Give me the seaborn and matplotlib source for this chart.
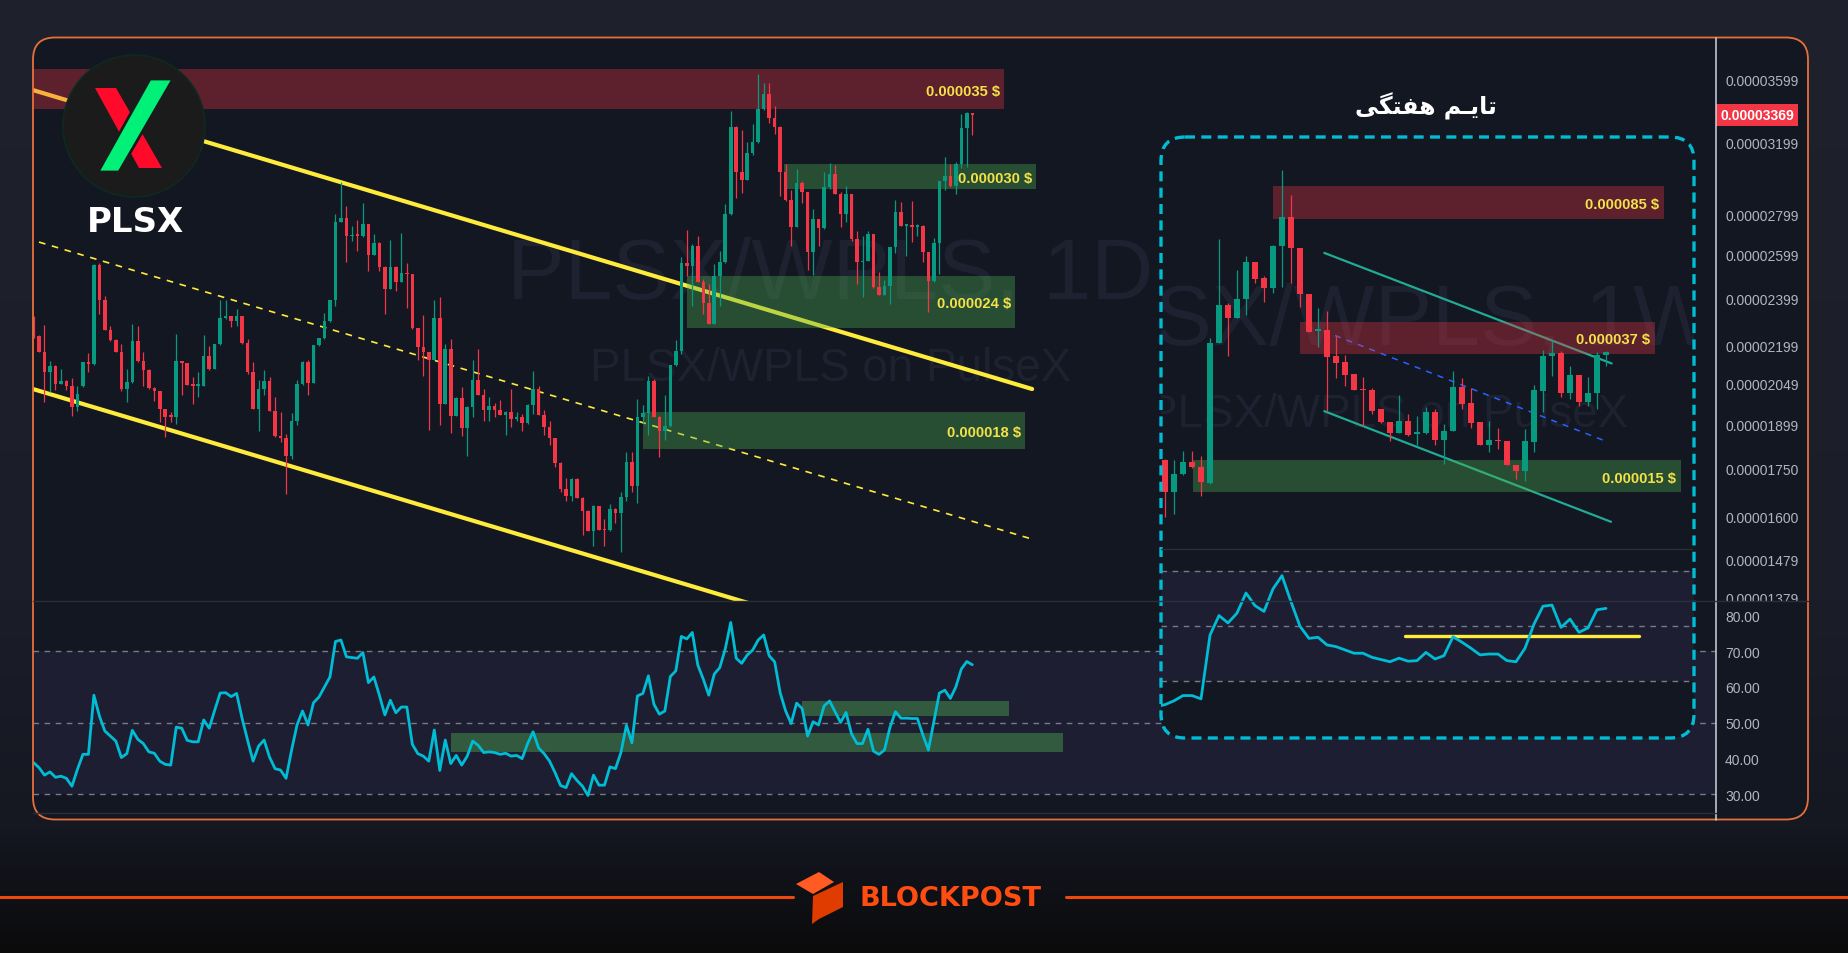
import numpy as np
import pandas as pd
import matplotlib
matplotlib.use("Agg")
import matplotlib.pyplot as plt
import seaborn as sns
from matplotlib import font_manager
from matplotlib.patches import FancyBboxPatch, Polygon, Circle
from matplotlib.transforms import blended_transform_factory, Bbox, TransformedBbox
from matplotlib.ticker import NullLocator

# ======================= DATA =======================
# Daily PLSX/WPLS candles, prices in units of 1e-8 (2199 -> 0.00002199)
d_open = [2311, 2235, 2170, 2091, 2114, 2047, 2059, 2040, 1959, 2040,
          2130, 2125, 2551, 2392, 2263, 2220, 2172, 2027, 2054, 2214,
          2136, 2101, 2031, 2021, 1955, 1928, 1926, 2135, 2126, 2043,
          2040, 2040, 2153, 2104, 2203, 2311, 2320, 2301, 2320, 2207,
          2093, 1954, 2027, 2058, 1947, 1857, 1851, 1791, 1909, 2046,
          2132, 2050, 2199, 2227, 2300, 2389, 2762, 2782, 2691, 2697,
          2690, 2752, 2598, 2657, 2543, 2440, 2543, 2473, 2511, 2508,
          2268, 2191, 2170, 2140, 2311, 1972, 2183, 1929, 1994, 1887,
          1961, 2061, 2005, 1951, 1965, 1948, 1933, 1943, 1919, 1926,
          1903, 1969, 2027, 1933, 1888, 1850, 1769, 1683, 1664, 1716,
          1658, 1618, 1559, 1631, 1563, 1562, 1623, 1610, 1659, 1771,
          1693, 1925, 1938, 2058, 1926, 1874, 1893, 2119, 2174, 2560,
          2544, 2640, 2473, 2377, 2287, 2497, 2563, 2803, 3291, 3032,
          2986, 3136, 3201, 3405, 3500, 3347, 3291, 3032, 2875, 2738,
          2969, 2918, 2614, 2777, 2729, 2946, 3018, 2909, 2803, 2909,
          2676, 2563, 2570, 2701, 2447, 2414, 2455, 2635, 2811, 2743,
          2746, 2737, 2742, 2611, 2475, 2657, 2980, 3006, 2950, 3075,
          3287, 3379]
d_high = [2320, 2240, 2284, 2136, 2121, 2104, 2062, 2069, 2040, 2133,
          2168, 2555, 2560, 2407, 2280, 2222, 2203, 2104, 2287, 2278,
          2170, 2104, 2035, 2021, 1955, 1942, 2245, 2135, 2126, 2071,
          2091, 2241, 2196, 2205, 2389, 2390, 2322, 2351, 2322, 2224,
          2132, 2061, 2099, 2073, 1998, 1942, 1865, 1940, 2061, 2135,
          2140, 2199, 2229, 2332, 2390, 2805, 2976, 2846, 2743, 2772,
          2860, 2754, 2701, 2659, 2545, 2671, 2545, 2706, 2560, 2510,
          2270, 2325, 2172, 2392, 2404, 2204, 2224, 1996, 2035, 1963,
          2139, 2183, 2027, 1998, 1975, 1987, 1945, 2027, 1944, 1935,
          1971, 2096, 2040, 1951, 1911, 1852, 1771, 1718, 1718, 1718,
          1660, 1620, 1635, 1633, 1592, 1638, 1626, 1675, 1803, 1803,
          1990, 1969, 2077, 2065, 1928, 2005, 2121, 2218, 2587, 2721,
          2652, 2689, 2486, 2462, 2555, 2619, 2853, 3390, 3302, 3277,
          3201, 3311, 3632, 3572, 3572, 3422, 3300, 3075, 2929, 3047,
          2982, 2922, 2831, 2779, 3029, 3080, 3068, 2918, 2951, 2911,
          2718, 2692, 2718, 2703, 2516, 2482, 2637, 2875, 2864, 2748,
          2870, 2750, 2744, 2613, 2680, 2982, 3117, 3075, 3088, 3373,
          3387, 3381]
d_low = [2228, 2170, 1978, 2015, 2023, 2045, 2023, 1930, 1945, 2036,
         2093, 2120, 2329, 2263, 2214, 2170, 2020, 1978, 2050, 2130,
         2040, 2027, 1984, 1908, 1856, 1906, 1900, 2003, 2043, 1972,
         1997, 2038, 2100, 2102, 2200, 2309, 2273, 2280, 2205, 2084,
         1952, 1877, 2003, 1945, 1853, 1837, 1669, 1781, 1895, 2044,
         2003, 2050, 2197, 2225, 2293, 2362, 2760, 2566, 2668, 2619,
         2688, 2524, 2596, 2524, 2329, 2438, 2432, 2471, 2355, 2266,
         2140, 2077, 1880, 2138, 1898, 1970, 1869, 1927, 1857, 1790,
         1923, 2003, 1909, 1909, 1923, 1931, 1860, 1890, 1910, 1877,
         1901, 1935, 1931, 1860, 1827, 1756, 1675, 1647, 1648, 1656,
         1548, 1557, 1517, 1560, 1517, 1559, 1582, 1499, 1646, 1675,
         1641, 1903, 1863, 1924, 1788, 1845, 1891, 2117, 2163, 2500,
         2366, 2471, 2329, 2285, 2285, 2366, 2560, 2800, 2886, 2913,
         2984, 3125, 3199, 3398, 3316, 3251, 2900, 2873, 2643, 2736,
         2862, 2528, 2503, 2643, 2727, 2937, 2907, 2735, 2760, 2668,
         2462, 2402, 2568, 2445, 2412, 2412, 2373, 2608, 2741, 2595,
         2660, 2689, 2563, 2336, 2473, 2508, 2929, 2946, 2909, 3055,
         3056, 3245]
d_close = [2235, 2170, 2091, 2114, 2047, 2059, 2040, 1959, 2008, 2130,
           2125, 2551, 2392, 2263, 2220, 2172, 2027, 2054, 2214, 2136,
           2101, 2031, 2021, 1955, 1926, 1925, 2135, 2126, 2043, 2040,
           2043, 2153, 2104, 2203, 2311, 2320, 2301, 2320, 2207, 2093,
           1954, 2027, 2058, 1947, 1857, 1851, 1791, 1909, 2046, 2132,
           2050, 2199, 2227, 2300, 2389, 2762, 2782, 2691, 2697, 2693,
           2752, 2598, 2657, 2543, 2440, 2543, 2473, 2511, 2508, 2268,
           2191, 2170, 2140, 2311, 1972, 2183, 1929, 1994, 1887, 1961,
           2061, 2005, 1951, 1965, 1948, 1933, 1943, 1919, 1926, 1903,
           1969, 2027, 1933, 1888, 1850, 1769, 1683, 1664, 1716, 1658,
           1618, 1559, 1631, 1562, 1561, 1623, 1610, 1659, 1771, 1693,
           1925, 1938, 2058, 1926, 1874, 1893, 2119, 2174, 2560, 2544,
           2640, 2473, 2377, 2287, 2497, 2563, 2803, 3291, 3032, 2986,
           3136, 3201, 3405, 3500, 3347, 3291, 3032, 2875, 2738, 2969,
           2918, 2614, 2777, 2729, 2946, 3018, 2909, 2803, 2909, 2676,
           2563, 2570, 2701, 2447, 2414, 2455, 2635, 2811, 2743, 2746,
           2737, 2742, 2611, 2475, 2657, 2980, 3006, 2950, 3075, 3287,
           3379, 3369]
d_rsi = [38.9, 37.5, 35.4, 36.3, 34.8, 35.1, 34.5, 32.3, 37.0, 41.2,
         41.2, 57.7, 51.9, 47.7, 46.3, 44.9, 40.3, 41.4, 47.9, 45.4,
         44.2, 41.9, 41.5, 39.3, 38.4, 38.2, 48.8, 48.5, 45.1, 44.7,
         44.7, 50.8, 48.5, 53.5, 58.3, 58.4, 57.3, 58.2, 51.2, 45.1,
         39.3, 43.5, 45.2, 40.4, 37.2, 36.8, 34.5, 42.3, 49.4, 53.3,
         49.4, 55.6, 57.2, 60.0, 62.8, 72.7, 73.1, 68.4, 68.2, 68.0,
         69.6, 61.2, 62.8, 57.7, 52.2, 56.3, 52.8, 54.4, 54.4, 44.0,
         41.4, 40.7, 39.3, 48.0, 36.7, 45.2, 38.6, 40.9, 38.2, 40.7,
         44.9, 43.7, 41.7, 41.9, 41.7, 41.2, 41.5, 40.7, 40.9, 40.0,
         44.2, 47.5, 43.0, 41.4, 39.3, 36.1, 32.5, 31.9, 35.8, 33.9,
         32.3, 29.7, 35.4, 32.6,
         32.6, 37.7, 37.2, 41.7, 49.3, 44.4, 57.5, 58.2, 63.1, 55.2,
         52.4, 53.3, 62.9, 64.5, 74.1, 73.4, 75.2, 66.1, 62.2, 57.7,
         63.6, 65.4, 70.6, 78.0, 68.0, 66.6, 68.9, 70.3, 73.1, 74.5,
         68.7, 67.0, 58.4, 53.3, 49.8, 55.5, 54.0, 46.3, 50.3, 49.4,
         54.7, 56.1, 53.1, 50.1, 52.9, 46.9, 44.2, 44.2, 48.2, 42.1,
         41.2, 42.4, 48.7, 53.1, 51.3, 51.3, 51.2, 51.2, 46.6, 42.4,
         50.3, 58.3, 59.1, 56.8, 60.0, 65.0, 67.1, 66.2]
d_last = 3369

# daily zones (bar-index range, price range)
dz_i0 = [-1.2, 135.7, 118.0, 110.0]
dz_i1 = [175.8, 181.6, 177.8, 179.6]
dz_lo = [3405, 2936, 2270, 1814]
dz_hi = [3666, 3077, 2499, 1943]
dz_kind = ["res", "sup", "sup", "sup"]
dz_text = ["0.000035 $", "0.000030 $", "0.000024 $", "0.000018 $"]
# daily channel (bar index, price)
ch_up_i, ch_up_p = [-1.093, 180.9], [3526, 2027]
ch_lo_i, ch_lo_p = [-1.093, 131.3], [2027, 1355]
ch_md_i, ch_md_p = [0.0, 180.7], [2661, 1536]
# RSI zones on daily
rz_i0 = [75.0, 139.0]
rz_i1 = [186.5, 176.6]
rz_lo = [41.8, 51.9]
rz_hi = [47.1, 56.0]

price_ticks = [3599, 3199, 2799, 2599, 2399, 2199, 2049, 1899, 1750, 1600, 1479, 1379]
rsi_ticks = [80, 70, 60, 50, 40, 30]

# Weekly candles (prices in 1e-6 USD scale of the labels)
w_open = [16.61, 13.52, 15.16, 16.37, 15.85, 14.34, 34.93, 44.66, 41.11, 46.16,
          58.51, 52.85, 49.77, 64.78, 77.93, 63.95, 47.9, 37.7, 38.0, 32.2,
          30.9, 28.7, 26.1, 25.98, 22.9, 21.12, 19.73, 21.3, 19.6, 19.73,
          22.5, 18.9, 19.9, 26.4, 23.9, 21.12, 18.27, 18.86, 18.7, 16.09,
          15.51, 18.62, 25.8, 32.28, 32.9, 25.5, 28.5, 24.0, 25.5, 32.5]
w_high = [16.7, 16.58, 17.56, 17.56, 17.07, 36.05, 67.85, 45.14, 55.71, 61.0,
          58.6, 53.52, 65.33, 105.3, 89.8, 64.0, 47.9, 43.6, 42.8, 36.5,
          32.5, 28.7, 28.2, 26.2, 22.9, 21.12, 25.1, 22.2, 21.9, 23.3,
          22.9, 20.85, 29.3, 28.05, 26.2, 21.12, 21.3, 20.4, 18.7, 16.09,
          20.2, 26.75, 33.4, 35.7, 33.3, 30.3, 28.5, 28.2, 33.1, 33.3]
w_low = [11.53, 11.78, 15.1, 15.8, 13.18, 14.25, 34.9, 32.28, 41.0, 41.91,
         51.19, 45.34, 48.0, 49.9, 51.19, 44.08, 37.6, 34.0, 22.74, 27.93,
         26.6, 25.98, 20.67, 22.26, 21.03, 18.78, 19.73, 19.33, 18.27, 19.6,
         18.2, 16.19, 19.9, 22.9, 20.4, 18.27, 17.46, 17.85, 16.09, 14.66,
         14.5, 17.46, 22.5, 28.3, 24.8, 24.5, 23.4, 23.4, 22.9, 30.2]
w_close = [13.52, 15.19, 16.37, 15.85, 14.40, 34.93, 44.66, 41.11, 46.31, 58.51,
           52.61, 49.77, 64.78, 77.93, 63.95, 47.7, 37.6, 38.2, 31.99, 30.8,
           28.5, 25.98, 25.98, 22.74, 21.12, 19.73, 21.3, 19.52, 19.8, 22.5,
           18.9, 20.0, 26.4, 23.7, 21.03, 18.27, 18.86, 18.75, 16.09, 15.51,
           18.7, 25.95, 32.28, 32.9, 25.5, 28.5, 24.0, 25.5, 32.5, 33.1]
w_rsi = [20.7, 21.4, 22.8, 24.7, 24.7, 23.5, 46.7, 53.8, 51.1, 54.7,
         62.0, 57.4, 55.3, 63.5, 68.3, 58.8, 49.9, 45.5, 45.9, 43.1,
         42.5, 41.3, 40.1, 40.1, 38.6, 37.8, 37.0, 38.3, 37.2, 37.4,
         40.4, 38.0, 39.2, 46.1, 44.1, 41.9, 39.5, 39.8, 39.8, 37.4,
         37.0, 41.9, 50.7, 57.2, 57.6, 49.5, 52.5, 47.7, 49.3, 55.9, 56.4]
wz_i0 = [12.0, 15.0, 3.1]
wz_i1 = [55.4, 54.4, 57.3]
wz_lo = [77.0, 32.6, 13.5]
wz_hi = [94.9, 40.1, 16.6]
wz_kind = ["res", "res", "sup"]
wz_text = ["0.000085 $", "0.000037 $", "0.000015 $"]
wch_up_i, wch_up_p = [17.7, 49.63], [62.1, 30.7]
wch_lo_i, wch_lo_p = [17.7, 49.56], [22.65, 11.19]
wch_md_i, wch_md_p = [18.89, 49.08], [36.7, 18.66]
w_rsi_level_i, w_rsi_level = [26.7, 52.7], 46.4

title_fa = "\uFBFD\uFB95\uFE98\uFED4\uFEEB \uFEE2\u0640\uFBFE\uFE8E\uFE97"  # "تایم هفتگی" shaped, visual order

# ======================= STYLE =======================
W, H = 1848, 954
sns.set_theme(style="dark", rc={"axes.facecolor": "none", "axes.grid": False})
plt.rcParams["font.family"] = ["Liberation Sans", "DejaVu Sans"]
names = {f.name for f in font_manager.fontManager.ttflist}
NARROW = "Liberation Sans Narrow" if "Liberation Sans Narrow" in names else "Liberation Sans"
ZSIZE = 12.4 if NARROW == "Liberation Sans Narrow" else 10.6

BG = "#131722"; UP = "#089981"; DN = "#f23645"; YEL = "#ffeb3b"
CYAN = "#00bcd4"; LBL = "#f5e14a"; AXT = "#b2b5be"; BAND = "#1e1e33"
WM = "#1d2130"
RES_C, RES_A = "#f23645", 0.33
SUP_C, SUP_A = "#4caf50", 0.37

fig = plt.figure(figsize=(W / 100, H / 100), dpi=100)


def add_px_axes(x0, y0, x1, y1, z):
    a = fig.add_axes([x0 / W, 1 - y1 / H, (x1 - x0) / W, (y1 - y0) / H], zorder=z)
    a.set_facecolor("none")
    for s in a.spines.values():
        s.set_visible(False)
    a.tick_params(length=0)
    a.set_xticks([])
    return a


def canvas(z):
    a = add_px_axes(0, 0, W, H, z)
    a.set_xlim(0, W)
    a.set_ylim(H, 0)
    a.axis("off")
    return a


def px_bbox(x0, y0, x1, y1):
    return TransformedBbox(Bbox([[x0 / W, 1 - y1 / H], [x1 / W, 1 - y0 / H]]), fig.transFigure)


def draw_candles(a, idx, o, h, l, c, width):
    o, h, l, c = (np.asarray(v, float) for v in (o, h, l, c))
    col = np.where(c >= o, UP, DN)
    a.vlines(idx, l, h, colors=col, lw=0.9, zorder=5)
    bot = np.minimum(o, c)
    hgt = np.maximum(np.abs(c - o), bot * 0.0028)
    a.bar(idx, hgt, width, bottom=bot, color=col, lw=0, zorder=6)


# ---------- background ----------
bg = canvas(0)
yy = np.arange(H)
stops_y = [0, 600, 830, 954]
stops_c = [(31, 34, 45), (27, 30, 41), (21, 23, 33), (11, 11, 12)]
grad = np.stack([np.interp(yy, stops_y, [c[k] for c in stops_c]) for k in range(3)], axis=-1) / 255
bg.imshow(grad[:, None, :], extent=[0, W, H, 0], aspect="auto", zorder=0)
bg.set_xlim(0, W); bg.set_ylim(H, 0)
bg.add_patch(FancyBboxPatch((33, 38.5), 1775, 782, boxstyle="round,pad=0,rounding_size=22",
                            fc=BG, ec="none", zorder=1))
bg.text(507, 299, "PLSX/WPLS, 1D", fontsize=62, color=WM, ha="left", va="baseline", zorder=2)
bg.text(831, 381, "PLSX/WPLS on PulseX", fontsize=33, color=WM, ha="center", va="baseline", zorder=2)

# ---------- main daily price pane ----------
XL = ((33 - 39) / 5.49, (1716 - 39) / 5.49)
ax = add_px_axes(33, 38.5, 1716, 602, 1)
ax.set_yscale("log")
ax.set_xlim(XL)
ax.set_ylim(1368.9, 3886.7)
d_idx = np.arange(len(d_close)) - 1

ax.plot(ch_up_i, ch_up_p, color=YEL, lw=3.0, solid_capstyle="round", zorder=2)
ax.plot(ch_lo_i, ch_lo_p, color=YEL, lw=3.0, solid_capstyle="round", zorder=2)
ax.plot(ch_md_i, ch_md_p, color=YEL, lw=1.2, ls=(0, (4, 4)), zorder=2)
for i0, i1, lo, hi, k, t in zip(dz_i0, dz_i1, dz_lo, dz_hi, dz_kind, dz_text):
    c, al = (RES_C, RES_A) if k == "res" else (SUP_C, SUP_A)
    ax.fill_between([i0, i1], [lo, lo], [hi, hi], color=c, alpha=al, lw=0, zorder=3)
    ax.text(i1 - 0.73, np.sqrt(lo * hi), t, ha="right", va="center_baseline", color=LBL,
            fontsize=ZSIZE, fontweight="bold", family=[NARROW, "DejaVu Sans"], zorder=8, parse_math=False)
draw_candles(ax, d_idx, d_open, d_high, d_low, d_close, 0.65)

ax.yaxis.set_minor_locator(NullLocator())
ax.set_yticks(price_ticks)
ax.set_yticklabels([f"0.0000{v:04d}" for v in price_ticks])
ax.yaxis.tick_right()
ax.tick_params(axis="y", which="both", length=0, pad=6.5, labelsize=10, labelcolor=AXT)
clipbb = px_bbox(1716, 0, W, 602)
for tk in ax.yaxis.get_major_ticks():
    tk.label2.set_clip_box(clipbb)
    tk.label2.set_clip_on(True)
tr = blended_transform_factory(ax.transAxes, ax.transData)
ax.text(1.0 + 4.2 / 1683, d_last, f"0.0000{d_last:04d}", transform=tr, ha="left", va="center",
        color="white", fontsize=10, fontweight="bold", clip_on=False, zorder=10,
        bbox=dict(boxstyle="square,pad=0.3", fc=DN, ec="none"))

# ---------- main RSI pane ----------
axr = add_px_axes(33, 602, 1716, 814.5, 1)
axr.set_xlim(XL)
axr.set_ylim(24.69, 83.99)
axr.axhspan(30, 70, color=BAND, lw=0, zorder=0)
for v in (70, 50, 30):
    axr.axhline(v, color="#787b86", lw=1.0, ls=(0, (4, 4)), zorder=1)
for i0, i1, lo, hi in zip(rz_i0, rz_i1, rz_lo, rz_hi):
    axr.fill_between([i0, i1], [lo, lo], [hi, hi], color=SUP_C, alpha=0.42, lw=0, zorder=2)
rsi_df = pd.DataFrame({"i": d_idx, "rsi": d_rsi})
sns.lineplot(data=rsi_df, x="i", y="rsi", ax=axr, color=CYAN, lw=2.0, zorder=5)
axr.set_xlabel(""); axr.set_ylabel("")
axr.set_xticks([])
axr.set_yticks(rsi_ticks)
axr.set_yticklabels([f"{v:.2f}" for v in rsi_ticks])
axr.yaxis.tick_right()
axr.tick_params(axis="y", length=0, pad=6.5, labelsize=10, labelcolor=AXT)

# ---------- weekly inset ----------
ibg = canvas(2)
box = FancyBboxPatch((1161, 138), 533, 601, boxstyle="round,pad=0,rounding_size=24", fc=BG, ec="none")
ibg.add_patch(box)
inset_clip = px_bbox(1161, 138, 1694, 739)
t1 = ibg.text(1382, 345, "PLSX/WPLS, 1W", fontsize=62, color=WM, ha="center", va="baseline")
t2 = ibg.text(1388, 427, "PLSX/WPLS on PulseX", fontsize=33, color=WM, ha="center", va="baseline")
for t in (t1, t2):
    t.set_clip_box(inset_clip)
    t.set_clip_on(True)

WXL = ((1161 - 1165) / 9, (1694 - 1165) / 9)
axi = add_px_axes(1161, 138, 1694, 550, 3)
axi.set_yscale("log")
axi.set_xlim(WXL)
axi.set_ylim(9.41, 130.0)
axi.yaxis.set_minor_locator(NullLocator())
axi.set_yticks([])
w_idx = np.arange(len(w_close))
axi.plot(wch_up_i, wch_up_p, color="#22ab94", lw=1.6, zorder=2)
axi.plot(wch_lo_i, wch_lo_p, color="#22ab94", lw=1.6, zorder=2)
axi.plot(wch_md_i, wch_md_p, color="#2962ff", lw=1.1, ls=(0, (4, 4)), zorder=2)
for i0, i1, lo, hi, k, t in zip(wz_i0, wz_i1, wz_lo, wz_hi, wz_kind, wz_text):
    c, al = (RES_C, RES_A) if k == "res" else (SUP_C, SUP_A)
    axi.fill_between([i0, i1], [lo, lo], [hi, hi], color=c, alpha=al, lw=0, zorder=3)
    axi.text(i1 - 0.5, np.sqrt(lo * hi), t, ha="right", va="center_baseline", color=LBL,
             fontsize=ZSIZE, fontweight="bold", family=[NARROW, "DejaVu Sans"], zorder=8, parse_math=False)
draw_candles(axi, w_idx, w_open, w_high, w_low, w_close, 0.72)

axir = add_px_axes(1161, 550, 1694, 739, 3)
axir.set_xlim(WXL)
axir.set_ylim(9.27, 78.0)
axir.set_yticks([])
span = axir.axhspan(30, 70, color=BAND, lw=0, zorder=0)
span.set_clip_path(box)
for v in (70, 50, 30):
    axir.axhline(v, color="#787b86", lw=1.0, ls=(0, (4, 4)), zorder=1)
axir.plot(w_rsi_level_i, [w_rsi_level, w_rsi_level], color=YEL, lw=2.4, zorder=4)
wr_df = pd.DataFrame({"i": np.arange(len(w_rsi)) - 1, "rsi": w_rsi})
sns.lineplot(data=wr_df, x="i", y="rsi", ax=axir, color=CYAN, lw=2.0, zorder=5)
axir.set_xlabel(""); axir.set_ylabel(""); axir.set_xticks([])

# ---------- overlay decorations ----------
ov = canvas(6)
ov.add_patch(FancyBboxPatch((33, 38.5), 1775, 782, boxstyle="round,pad=0,rounding_size=22",
                            fc="none", ec="#e8703a", lw=1.3))
ov.plot([1716, 1716], [38.5, 820.5], color="#d1d4dc", lw=1.1)
ov.plot([33, 1808], [602, 602], color="#2a2e39", lw=1.0)
ov.plot([33, 1716], [814, 814], color="#2a2e39", lw=1.0)
ov.plot([1161, 1692], [550, 550], color="#2a2e39", lw=1.0)
ov.add_patch(FancyBboxPatch((1161, 138), 533, 601, boxstyle="round,pad=0,rounding_size=24",
                            fc="none", ec=CYAN, lw=2.4, ls=(0, (3, 1.9))))
ov.text(1426, 106, title_fa, ha="center", va="center", color="white", fontsize=17,
        fontweight="bold", family=["DejaVu Sans"])

# PLSX logo
ov.add_patch(Circle((134, 127), 71, fc="#1b1b1b", ec="#0d2a20", lw=1.2))
ov.add_patch(Polygon([(95, 89), (116, 89), (162, 169), (139, 169)], closed=True, fc="#ff0a2a", ec="none"))
ov.add_patch(Polygon([(150, 80), (173, 80), (119, 173), (98, 173)], closed=True, fc="#00f078",
                     ec="#1b1b1b", lw=2.0, joinstyle="round"))
ov.text(136, 223, "PLSX", ha="center", va="center", color="white", fontsize=24.5,
        fontweight="bold", family=["DejaVu Sans"])

# footer
ov.plot([0, 793], [898, 898], color="#f0480c", lw=2.2)
ov.plot([1066, W], [898, 898], color="#f0480c", lw=2.2)
ov.add_patch(Polygon([(796, 885), (819, 873), (834, 883), (813, 895)], closed=True, fc="#ff5b22", ec="none"))
ov.add_patch(Polygon([(813, 897), (843, 883), (843, 908), (819, 920), (812, 925)], closed=True,
                     fc="#e03c00", ec="none"))
ov.text(859, 899, "BLOCKPOST", ha="left", va="center", color="#ff4d12", fontsize=19.5,
        fontweight="bold", family=["DejaVu Sans"])

fig.savefig("out.png", dpi=100, facecolor="#1e222d")
